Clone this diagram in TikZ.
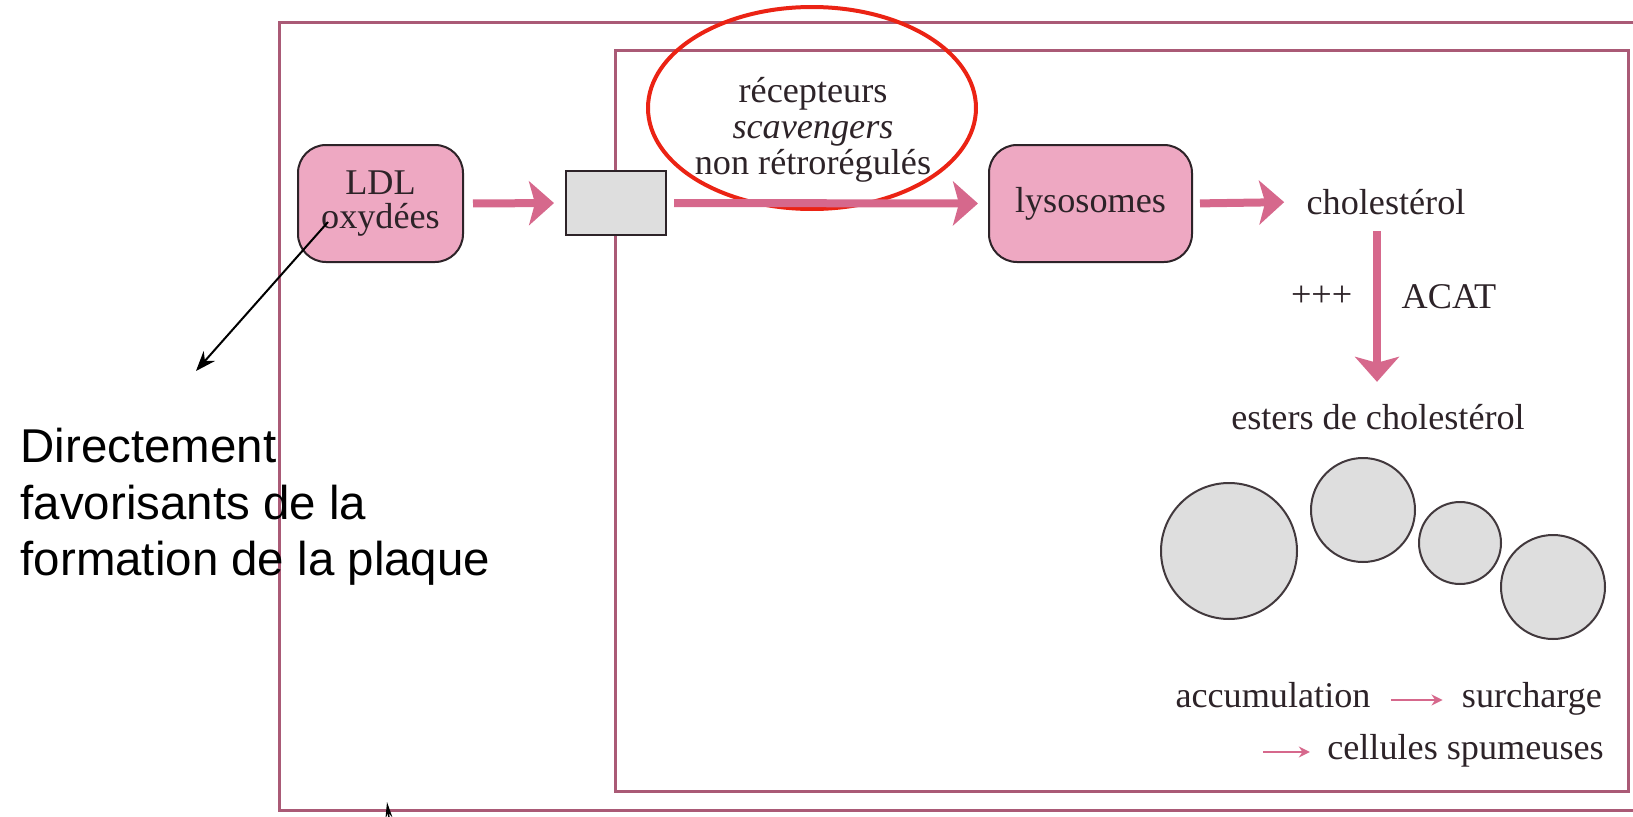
\documentclass[tikz,border=0pt]{standalone}
\usepackage{fontspec}
\setmainfont{Liberation Serif}
\newfontfamily\notefont{Liberation Sans}
\usetikzlibrary{arrows.meta,positioning}
\definecolor{framepink}{RGB}{170,90,118}
\definecolor{boxpink}{RGB}{238,168,194}
\definecolor{arrpink}{RGB}{214,104,140}
\definecolor{inkgray}{RGB}{45,35,40}
\definecolor{dropgray}{RGB}{222,222,222}
\definecolor{markred}{RGB}{235,35,20}

\begin{document}
\begin{tikzpicture}[
  frame/.style={draw=framepink, line width=0.03cm},
  pinkbox/.style={draw=inkgray, fill=boxpink, rounded corners=0.28cm, line width=0.02cm, align=center, text=inkgray, font=\fontsize{10.3}{9.8}\selectfont},
  label/.style={text=inkgray, font=\fontsize{10.3}{10.3}\selectfont, align=center},
  arr/.style={-{Stealth[length=0.25cm, width=0.44cm, inset=0.06cm]}, line width=0.08cm, arrpink},
  thinarr/.style={-{Stealth[length=0.11cm, width=0.11cm]}, line width=0.02cm, arrpink},
  drop/.style={draw=inkgray!90, fill=dropgray, line width=0.02cm},
  note/.style={-{Stealth[length=0.2cm, width=0.15cm]}, line width=0.02cm, black}
]
\useasboundingbox (0,0) rectangle (16.33,-8.17);
\clip (0,0) rectangle (16.33,-8.17);
% frames
\draw[frame] (2.79,-0.23) rectangle (16.6,-8.10);
\draw[frame] (6.15,-0.50) rectangle (16.28,-7.91);
% pathway
\node[pinkbox, minimum width=1.65cm, minimum height=1.17cm] (ldl) at (3.805,-2.035) {LDL\\oxydées};
\node[draw=inkgray, fill=dropgray, line width=0.02cm, minimum width=1cm, minimum height=0.64cm] (memb) at (6.16,-2.03) {};
\node[pinkbox, minimum width=2.03cm, minimum height=1.17cm] (lyso) at (10.905,-2.035) {lysosomes};
\node[label] (chol) at (13.86,-2.02) {cholestérol};
\node[label] (esters) at (13.78,-4.17) {esters de cholestérol};
\node[label] (rec) at (8.13,-1.30) {récepteurs\\\textit{scavengers}\\non rétrorégulés};
\draw[markred, line width=0.04cm] (8.12,-1.08) ellipse [x radius=1.64, y radius=1.01];
\draw[arr, shorten <=0.09cm, shorten >=0.11cm] (ldl.east) -- (memb.west);
\draw[arr, shorten <=0.07cm, shorten >=0.10cm] (memb.east) -- (lyso.west);
\draw[arr, shorten <=0.07cm, shorten >=0.10cm] (lyso.east) -- (chol.west);
\draw[arr, shorten <=0.04cm, shorten >=0.10cm] ([xshift=-0.09cm]chol.south) -- ([xshift=-0.09cm]chol.south |- esters.north)
  node[label, pos=0.42, left=0.09cm] {+++}
  node[label, pos=0.42, right=0.09cm] {ACAT};
% droplets
\foreach \x/\y/\r in {12.29/-5.51/0.68, 13.63/-5.10/0.52, 14.60/-5.43/0.41, 15.53/-5.87/0.52}
  \draw[drop] (\x,\y) circle (\r);
% outcome
\node[label, anchor=base] (accu) at (12.73,-7.07) {accumulation};
\node[label, anchor=base] (surch) at (15.32,-7.07) {surcharge};
\node[label, anchor=base] (spum) at (14.655,-7.59) {cellules spumeuses};
\draw[thinarr, shorten <=0.08cm, shorten >=0.07cm] ([yshift=0.07cm]accu.base east) -- ([yshift=0.07cm]accu.base east -| surch.west);
\coordinate (c2) at (12.63,-7.52);
\draw[thinarr, shorten >=0.05cm] (c2) -- (c2 -| spum.west);
% annotation
\node[font=\notefont\fontsize{13.5}{16.2}\selectfont, align=left, anchor=north west, inner sep=0] (note) at (0.20,-4.27) {Directement\\favorisants de la\\formation de la plaque};
\coordinate (pt) at (3.28,-2.22);
\coordinate (tip) at (1.96,-3.71);
\draw[note] (pt) -- (tip);
\coordinate (cur) at (3.87,-8.02);
\draw[-{Stealth[length=0.16cm, width=0.07cm]}, line width=0.015cm] ([shift={(0.05,-0.4)}]cur) -- (cur);
\end{tikzpicture}
\end{document}
